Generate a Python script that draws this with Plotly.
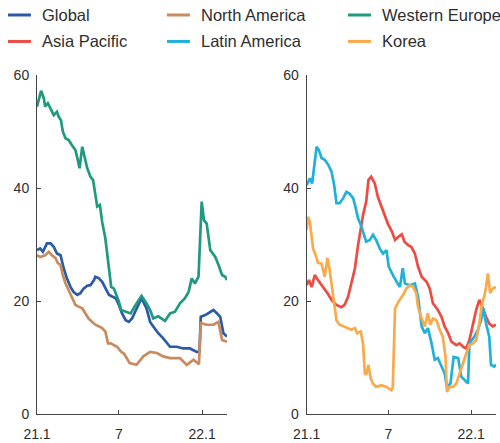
import pandas as pd
import plotly.graph_objects as go

START = pd.Timestamp("2021-01-01")

# ---- left panel: day offsets from 1 Jan 2021 and values ----
global_days = [0, 7, 13, 22, 30, 37, 44, 52, 59, 66, 74, 81, 89, 96, 103, 111, 118, 126, 129, 137,
               144, 151, 159, 166, 174, 181, 188, 196, 203, 210, 224, 231, 242, 250, 257, 268, 279, 287, 294, 309,
               323, 338, 353, 359, 362, 372, 383, 390, 398, 405, 412, 420]
global_vals = [29.0, 29.3, 28.7, 30.2, 30.2, 29.6, 28.4, 28.1, 25.8, 24.0, 22.5, 21.6, 21.1, 21.4, 22.2, 22.7, 22.8, 23.7, 24.3, 24.0,
               23.4, 22.2, 21.1, 20.8, 20.5, 19.3, 17.8, 16.6, 16.3, 16.9, 19.3, 20.5, 18.7, 16.3, 15.5, 14.3, 13.4, 12.5, 11.9, 11.9,
               11.6, 11.6, 11.0, 11.0, 17.2, 17.5, 18.1, 18.4, 17.8, 17.2, 14.3, 13.7]

na_days = [0, 7, 18, 26, 33, 41, 46, 52, 57, 63, 70, 77, 85, 92, 100, 107, 114, 122, 129, 137,
           144, 151, 157, 163, 170, 177, 186, 192, 205, 220, 235, 250, 265, 279, 294, 316, 331, 346, 358, 362,
           375, 390, 401, 409, 420]
na_vals = [28.1, 27.8, 28.1, 28.7, 28.1, 27.6, 26.7, 26.4, 24.6, 23.1, 21.9, 20.8, 19.3, 19.0, 18.7, 17.8, 16.9, 16.3, 15.8, 15.5,
           15.2, 14.6, 12.5, 12.5, 12.2, 11.9, 11.0, 10.7, 9.0, 8.7, 10.2, 11.0, 10.8, 10.2, 9.9, 9.9, 8.7, 9.6, 8.8, 16.1,
           15.8, 15.8, 16.3, 13.1, 12.8]

weu_days = [0, 9, 15, 18, 24, 30, 37, 44, 48, 53, 57, 63, 70, 77, 85, 90, 94, 100, 105, 111,
            118, 124, 129, 133, 139, 144, 151, 155, 159, 164, 170, 176, 181, 186, 196, 207, 218, 231, 242, 250,
            257, 268, 283, 294, 305, 316, 327, 335, 342, 349, 357, 360, 364, 369, 375, 383, 394, 401, 409, 416, 420]
weu_vals = [54.4, 57.2, 55.9, 54.4, 55.0, 54.1, 52.9, 53.5, 52.6, 52.0, 50.0, 48.8, 48.5, 47.6, 46.7, 45.0, 43.5, 47.3, 45.8, 43.5,
            42.0, 41.4, 38.8, 36.7, 37.0, 34.0, 31.1, 28.1, 25.8, 22.5, 22.2, 21.1, 19.9, 18.4, 18.1, 17.8, 19.3, 20.9, 19.6, 18.4,
            16.9, 17.3, 16.5, 17.8, 18.1, 19.6, 20.5, 21.6, 24.0, 23.1, 24.3, 30.8, 37.6, 34.3, 33.7, 29.0, 27.8, 26.4, 24.6, 24.3, 23.7]

# ---- right panel ----
apac_days = [0, 5, 11, 18, 25, 33, 40, 46, 55, 66, 77, 84, 92, 99, 107, 114, 125, 132, 137, 143,
             151, 158, 166, 173, 180, 189, 196, 204, 211, 217, 225, 232, 240, 247, 255, 266, 273, 280, 291, 299,
             306, 314, 321, 332, 339, 347, 354, 361, 369, 376, 383, 391, 398, 405, 413, 420]
apac_vals = [22.8, 23.7, 22.5, 24.6, 23.7, 22.8, 22.2, 21.4, 20.2, 19.3, 18.9, 19.3, 20.8, 23.1, 25.8, 29.9, 35.2, 37.6, 41.4, 42.0,
             40.8, 38.4, 36.7, 35.2, 33.7, 32.3, 30.8, 31.4, 31.8, 30.5, 29.9, 29.6, 28.4, 26.1, 24.3, 23.4, 22.2, 19.6, 18.4, 17.2,
             15.5, 14.3, 12.8, 12.2, 12.5, 11.9, 11.6, 13.1, 16.0, 18.4, 20.2, 18.4, 17.2, 16.0, 15.5, 15.8]

latam_days = [0, 7, 12, 18, 22, 27, 33, 40, 48, 55, 61, 66, 73, 81, 88, 95, 103, 108, 114, 120,
              127, 132, 140, 147, 154, 162, 169, 177, 182, 193, 204, 207, 213, 218, 229, 240, 247, 255, 262, 269,
              277, 284, 291, 299, 306, 311, 319, 326, 336, 343, 354, 358, 361, 372, 380, 387, 392, 398, 405, 409,
              416, 420]
latam_vals = [40.5, 41.7, 40.8, 45.3, 47.3, 46.7, 45.3, 45.0, 44.1, 42.9, 40.5, 37.3, 37.3, 38.2, 39.3, 39.0, 38.2, 36.7, 34.6, 33.5,
              31.7, 30.5, 30.8, 31.7, 30.8, 29.3, 28.4, 29.0, 26.1, 24.3, 22.8, 22.5, 25.8, 23.1, 22.8, 23.1, 20.8, 15.5, 14.3, 15.2,
              12.5, 9.6, 9.9, 8.4, 7.2, 4.8, 5.4, 10.1, 9.9, 6.6, 5.7, 5.4, 12.5, 13.7, 14.9, 16.6, 18.7, 16.0, 13.7, 8.7,
              8.4, 8.7]

korea_days = [0, 3, 7, 11, 14, 20, 25, 33, 40, 46, 51, 56, 62, 66, 73, 81, 92, 99, 107, 112,
              120, 125, 129, 132, 137, 142, 147, 154, 166, 177, 188, 191, 196, 206, 214, 221, 229, 236, 243, 247,
              255, 262, 269, 274, 280, 288, 295, 302, 308, 311, 317, 325, 332, 339, 347, 354, 361, 369, 376, 383,
              389, 394, 398, 402, 407, 413, 420]
korea_vals = [32.6, 34.9, 34.0, 31.7, 29.3, 28.1, 26.8, 26.6, 24.3, 27.6, 25.5, 22.5, 18.4, 16.6, 15.8, 15.5, 15.2, 14.9, 15.2, 14.3,
              14.6, 12.5, 7.2, 6.9, 8.7, 6.3, 5.4, 4.8, 5.1, 4.8, 4.2, 4.8, 18.7, 20.2, 21.1, 22.2, 22.8, 22.5, 21.4, 19.0,
              16.9, 15.5, 17.8, 15.8, 16.9, 16.6, 14.9, 13.7, 10.1, 3.9, 4.8, 4.8, 5.4, 7.2, 9.3, 10.7, 12.2, 12.5, 13.1, 16.0,
              19.6, 20.8, 22.5, 24.9, 21.4, 22.2, 22.5]

tick_dates = ["2021-01-01", "2021-07-01", "2022-01-01"]
tick_labels = ["21.1", "7", "22.1"]
y_ticks = [0, 20, 40, 60]

# name, days, values, color, panel (1 = left, 2 = right)
series = [
    ("Global", global_days, global_vals, "#2b5ba8", 1),
    ("North America", na_days, na_vals, "#c98a5e", 1),
    ("Western Europe", weu_days, weu_vals, "#1f9a80", 1),
    ("Asia Pacific", apac_days, apac_vals, "#ee4c42", 2),
    ("Latin America", latam_days, latam_vals, "#1fb1d9", 2),
    ("Korea", korea_days, korea_vals, "#f8aa4c", 2),
]

FONT = "Liberation Sans, Arial, sans-serif"
AXIS_COLOR = "#444444"
TEXT_COLOR = "#2e2e2e"

fig = go.Figure()
for name, days, vals, color, panel in series:
    dates = [START + pd.Timedelta(days=d) for d in days]
    fig.add_trace(go.Scatter(
        x=dates, y=vals, mode="lines", name=name,
        line=dict(color=color, width=2.7),
        xaxis="x" if panel == 1 else "x2",
        yaxis="y" if panel == 1 else "y2",
        showlegend=False,
    ))

x_common = dict(
    range=["2021-01-01", "2022-02-25"],
    tickmode="array", tickvals=tick_dates, ticktext=tick_labels,
    ticks="inside", ticklen=4, tickcolor=AXIS_COLOR, tickwidth=1,
    showline=True, linecolor=AXIS_COLOR, linewidth=1,
    showgrid=False, zeroline=False, automargin=False,
    tickfont=dict(family=FONT, size=14, color=TEXT_COLOR),
    ticklabelstandoff=7,
)
y_common = dict(
    range=[0, 60],
    tickmode="array", tickvals=y_ticks,
    ticks="inside", ticklen=4, tickcolor=AXIS_COLOR, tickwidth=1,
    showline=True, linecolor=AXIS_COLOR, linewidth=1,
    showgrid=False, zeroline=False, automargin=False,
    tickfont=dict(family=FONT, size=14, color=TEXT_COLOR),
    ticklabelstandoff=4,
)

fig.update_layout(
    width=500, height=443,
    margin=dict(l=37, r=4, t=75, b=29),
    plot_bgcolor="white", paper_bgcolor="white",
    xaxis=dict(domain=[0, 0.414], **x_common),
    yaxis=dict(anchor="x", **y_common),
    xaxis2=dict(domain=[0.5876, 1], anchor="y2", **x_common),
    yaxis2=dict(anchor="x2", **y_common),
    showlegend=False,
)

# Legend: three columns, two rows, drawn as line samples and labels
legend_cols = [(-0.0632, 0.0065), (0.2832, 0.3529), (0.6776, 0.7473)]
legend_rows = [1.177, 1.099]
for i, (name, _, _, color, _) in enumerate(series):
    col = legend_cols[i % 3]
    row = legend_rows[i // 3]
    fig.add_shape(type="line", xref="paper", yref="paper",
                  x0=col[0], x1=col[0] + 0.05, y0=row, y1=row,
                  line=dict(color=color, width=3))
    fig.add_annotation(xref="paper", yref="paper", x=col[1], y=row,
                       xanchor="left", yanchor="middle", showarrow=False,
                       text=name, font=dict(family=FONT, size=16.5, color=TEXT_COLOR))

fig.write_html("out.html")
